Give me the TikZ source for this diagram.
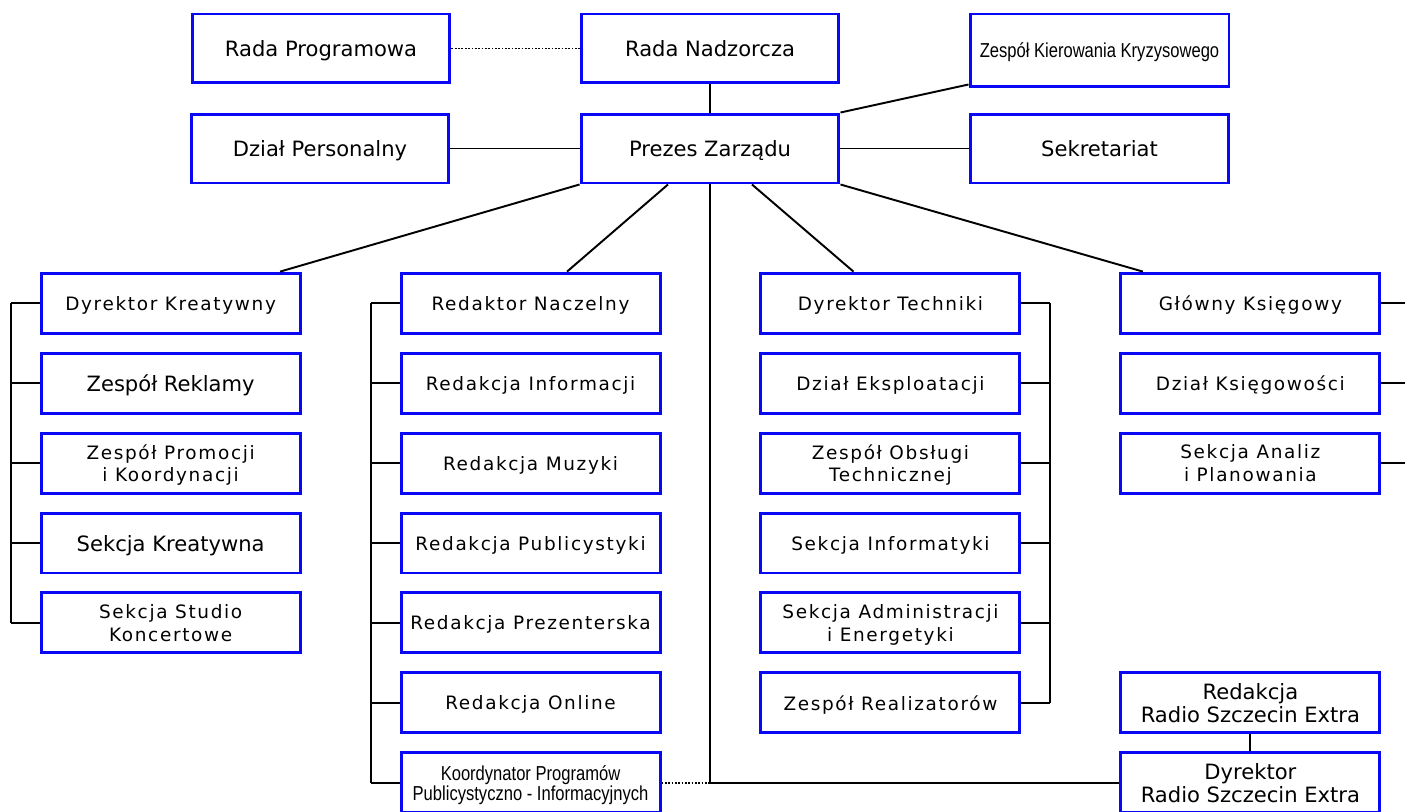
\documentclass[tikz,border=0pt]{standalone}
\usepackage{fontspec}
\setmainfont{DejaVu Sans}
\newfontfamily\narrowfont[FakeStretch=0.82]{Liberation Sans}
\usetikzlibrary{matrix}
\definecolor{boxblue}{RGB}{8,8,245}
\newcommand{\BigLabel}{\fontsize{12}{11.5}\selectfont}
\newcommand{\SmallLabel}{\fontsize{10.5}{12.6}\selectfont\addfontfeatures{LetterSpace=9}}
\newcommand{\NarrowLabel}{\narrowfont\fontsize{11.5}{11.5}\selectfont}
\tikzset{
  unit/.style={draw=boxblue, line width=1.7pt, fill=white, align=center, inner sep=0pt,
    text depth=0pt, minimum width=5.18cm, minimum height=1.2cm, font=\SmallLabel},
  topunit/.style={unit, minimum width=5.16cm, minimum height=1.38cm, font=\BigLabel},
  link/.style={draw=black, line width=1.1pt},
  loose/.style={link, dash pattern=on 1pt off 0.9pt}
}

\begin{document}
\begin{tikzpicture}[x=0.02cm, y=-0.02cm]
  \useasboundingbox (0,0) rectangle (1405,811);
  \node[topunit] (radaprog) at (321,48.5) {Rada Programowa};
  \node[topunit] (radanadz) at (710,48.5) {Rada Nadzorcza};
  \node[topunit, minimum width=5.18cm, minimum height=1.46cm, font=\NarrowLabel] (zkk) at (1099.5,50.5) {Zespół Kierowania Kryzysowego};
  \node[topunit] (dzpers) at (320,148.5) {Dział Personalny};
  \node[topunit] (prezes) at (710,148.5) {Prezes Zarządu};
  \node[topunit] (sekr) at (1099.5,148.5) {Sekretariat};

  \matrix (dept) at (710.5,543) [row sep=0.34cm, column sep=1.96cm, nodes={unit}]
  {
    \node (dk) {Dyrektor Kreatywny}; & \node (rn) {Redaktor Naczelny}; & \node (dt) {Dyrektor Techniki}; & \node (gk) {Główny Księgowy}; \\
    \node[font=\BigLabel] (zr) {Zespół Reklamy}; & \node (ri) {Redakcja Informacji}; & \node (de) {Dział Eksploatacji}; & \node (dks) {Dział Księgowości}; \\
    \node (zpk) {Zespół Promocji\\i Koordynacji}; & \node (rm) {Redakcja Muzyki}; & \node (zot) {Zespół Obsługi\\Technicznej}; & \node (sap) {Sekcja Analiz\\i Planowania}; \\
    \node[font=\BigLabel] (sk) {Sekcja Kreatywna}; & \node (rp) {Redakcja Publicystyki}; & \node (si) {Sekcja Informatyki}; & \\
    \node (ssk) {Sekcja Studio\\Koncertowe}; & \node (rpr) {Redakcja Prezenterska}; & \node (sae) {Sekcja Administracji\\i Energetyki}; & \\
    & \node (ro) {Redakcja Online}; & \node (zre) {Zespół Realizatorów}; & \node[font=\BigLabel] (rrse) {Redakcja\\Radio Szczecin Extra}; \\
    & \node[font=\NarrowLabel] (kpp) {Koordynator Programów\\Publicystyczno - Informacyjnych}; & & \node[font=\BigLabel] (drse) {Dyrektor\\Radio Szczecin Extra}; \\
  };

  \coordinate (busA) at (11,0);
  \coordinate (busB) at (371,0);
  \coordinate (busC) at (1050,0);
  \coordinate (busD) at (1405,0);

  \draw[loose] (radaprog) -- (radanadz);
  \draw[link] (radanadz) -- (prezes);
  \draw[link] (dzpers) -- (prezes);
  \draw[link] (prezes) -- (sekr);
  \draw[link] (prezes.north east) -- ([yshift=0.08cm]zkk.south west);
  \draw[link] (prezes.south west) -- ([xshift=2.19cm]dk.north);
  \draw[link] ([xshift=-0.84cm]prezes.south) -- ([xshift=0.73cm]rn.north);
  \draw[link] ([xshift=0.84cm]prezes.south) -- ([xshift=-0.74cm]dt.north);
  \draw[link] (prezes.south east) -- ([xshift=-2.15cm]gk.north);
  \draw[link] (prezes.south) |- (drse.west);
  \draw[loose] (kpp.east) -- (kpp.east -| prezes.south);
  \draw[link] (rrse) -- (drse);

  \draw[link] (dk.west -| busA) -- (ssk.west -| busA);
  \foreach \n in {dk,zr,zpk,sk,ssk}
    \draw[link] (\n.west) -- (\n.west -| busA);
  \draw[link] (rn.west -| busB) -- (kpp.west -| busB);
  \foreach \n in {rn,ri,rm,rp,rpr,ro,kpp}
    \draw[link] (\n.west) -- (\n.west -| busB);
  \draw[link] (dt.east -| busC) -- (zre.east -| busC);
  \foreach \n in {dt,de,zot,si,sae,zre}
    \draw[link] (\n.east) -- (\n.east -| busC);
  \foreach \n in {gk,dks,sap}
    \draw[link] (\n.east) -- (\n.east -| busD);
\end{tikzpicture}
\end{document}
